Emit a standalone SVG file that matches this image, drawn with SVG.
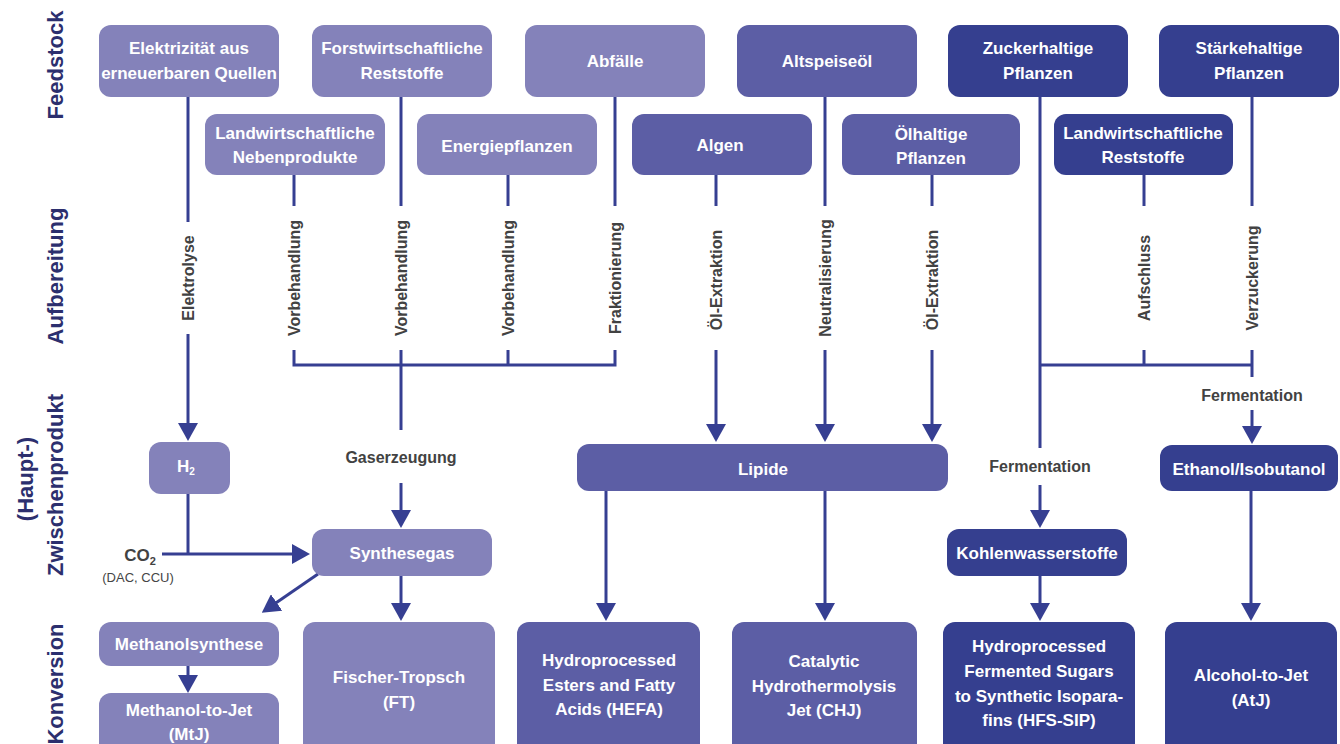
<svg xmlns="http://www.w3.org/2000/svg" width="1340" height="744" viewBox="0 0 1340 744">
<defs>
<style>
.t{font-family:"Liberation Sans Narrow","Liberation Sans",Arial,sans-serif;font-weight:bold;text-anchor:middle;dominant-baseline:central}
.n{font-size:17px;fill:#fff}
.p{font-size:16px;fill:#424242}
.ax{font-size:22px;fill:#2c2f6e}
.c1{fill:#8482ba}
.c2{fill:#5c5ea5}
.c3{fill:#353f8f}
.ln{stroke:#363f92;stroke-width:3;fill:none}
</style>
<marker id="ah" markerUnits="userSpaceOnUse" viewBox="0 0 18 20" markerWidth="18" markerHeight="20" refX="8" refY="10" orient="auto">
<path d="M0,0 L18,10 L0,20 z" fill="#363f92"/>
</marker>
</defs>
<rect width="1340" height="744" fill="#fff"/>

<!-- axis labels -->
<g id="axis">
<text class="t ax" transform="translate(55,65) rotate(-90)">Feedstock</text>
<text class="t ax" transform="translate(55,276) rotate(-90)">Aufbereitung</text>
<text class="t ax" transform="translate(25,479) rotate(-90)">(Haupt-)</text>
<text class="t ax" transform="translate(55,485) rotate(-90)">Zwischenprodukt</text>
<text class="t ax" transform="translate(55,684) rotate(-90)">Konversion</text>
</g>

<!-- connectors -->
<g id="connectors" class="ln">
<line x1="188" y1="97" x2="188" y2="222"/>
<line x1="188" y1="334" x2="188" y2="431" marker-end="url(#ah)"/>
<line x1="294" y1="175" x2="294" y2="206"/>
<line x1="401" y1="97" x2="401" y2="206"/>
<line x1="508" y1="175" x2="508" y2="206"/>
<line x1="615" y1="97" x2="615" y2="206"/>
<polyline points="294,350 294,365 615,365 615,350"/>
<line x1="401" y1="350" x2="401" y2="430"/>
<line x1="508" y1="350" x2="508" y2="365"/>
<line x1="401" y1="483" x2="401" y2="518" marker-end="url(#ah)"/>
<line x1="716" y1="175" x2="716" y2="206"/>
<line x1="716" y1="350" x2="716" y2="432" marker-end="url(#ah)"/>
<line x1="825" y1="97" x2="825" y2="206"/>
<line x1="825" y1="350" x2="825" y2="432" marker-end="url(#ah)"/>
<line x1="932" y1="175" x2="932" y2="206"/>
<line x1="932" y1="350" x2="932" y2="432" marker-end="url(#ah)"/>
<line x1="1040" y1="97" x2="1040" y2="448"/>
<line x1="1040" y1="485" x2="1040" y2="518" marker-end="url(#ah)"/>
<line x1="1144" y1="175" x2="1144" y2="206"/>
<line x1="1252" y1="97" x2="1252" y2="206"/>
<polyline points="1040,365 1252,365"/>
<line x1="1144" y1="350" x2="1144" y2="365"/>
<line x1="1252" y1="350" x2="1252" y2="377"/>
<line x1="1252" y1="410" x2="1252" y2="434" marker-end="url(#ah)"/>
<line x1="606" y1="491" x2="606" y2="611" marker-end="url(#ah)"/>
<line x1="825" y1="491" x2="825" y2="611" marker-end="url(#ah)"/>
<line x1="188" y1="494" x2="188" y2="554"/>
<line x1="162" y1="554" x2="300" y2="554" marker-end="url(#ah)"/>
<line x1="318" y1="574" x2="270" y2="607" marker-end="url(#ah)"/>
<line x1="401" y1="576" x2="401" y2="611" marker-end="url(#ah)"/>
<line x1="188" y1="666" x2="188" y2="683" marker-end="url(#ah)"/>
<line x1="1040" y1="576" x2="1040" y2="611" marker-end="url(#ah)"/>
<line x1="1251" y1="491" x2="1251" y2="611" marker-end="url(#ah)"/>
</g>

<!-- process labels -->
<g id="process-labels">
<text class="t p" transform="translate(188,278) rotate(-90)">Elektrolyse</text>
<text class="t p" transform="translate(294,278) rotate(-90)">Vorbehandlung</text>
<text class="t p" transform="translate(401,278) rotate(-90)">Vorbehandlung</text>
<text class="t p" transform="translate(508,278) rotate(-90)">Vorbehandlung</text>
<text class="t p" transform="translate(615,278) rotate(-90)">Fraktionierung</text>
<text class="t p" transform="translate(716,280) rotate(-90)">Öl-Extraktion</text>
<text class="t p" transform="translate(825,278) rotate(-90)">Neutralisierung</text>
<text class="t p" transform="translate(932,280) rotate(-90)">Öl-Extraktion</text>
<text class="t p" transform="translate(1144,278) rotate(-90)">Aufschluss</text>
<text class="t p" transform="translate(1252,278) rotate(-90)">Verzuckerung</text>
<text class="t p" x="401" y="457">Gaserzeugung</text>
<text class="t p" x="1040" y="466">Fermentation</text>
<text class="t p" x="1252" y="395">Fermentation</text>
<text class="t p" x="140" y="555" style="font-size:17px">CO<tspan font-size="11" dy="6">2</tspan></text>
<text x="138" y="577" style="font-family:'Liberation Sans Narrow','Liberation Sans',Arial,sans-serif;font-size:13px;fill:#454545;text-anchor:middle;dominant-baseline:central">(DAC, CCU)</text>
</g>

<!-- feedstock row 1 -->
<g id="n-elektrizitaet"><rect class="c1" x="99" y="25" width="180" height="72" rx="12"/><text class="t n" x="189" y="48">Elektrizität aus</text><text class="t n" x="189" y="73">erneuerbaren Quellen</text></g>
<g id="n-forst"><rect class="c1" x="312" y="25" width="180" height="72" rx="12"/><text class="t n" x="402" y="48">Forstwirtschaftliche</text><text class="t n" x="402" y="73">Reststoffe</text></g>
<g id="n-abfaelle"><rect class="c1" x="525" y="25" width="180" height="72" rx="12"/><text class="t n" x="615" y="61">Abfälle</text></g>
<g id="n-altspeiseoel"><rect class="c2" x="737" y="25" width="180" height="72" rx="12"/><text class="t n" x="827" y="61">Altspeiseöl</text></g>
<g id="n-zucker"><rect class="c3" x="948" y="25" width="180" height="72" rx="12"/><text class="t n" x="1038" y="48">Zuckerhaltige</text><text class="t n" x="1038" y="73">Pflanzen</text></g>
<g id="n-staerke"><rect class="c3" x="1159" y="25" width="180" height="72" rx="12"/><text class="t n" x="1249" y="48">Stärkehaltige</text><text class="t n" x="1249" y="73">Pflanzen</text></g>

<!-- feedstock row 2 -->
<g id="n-landw-neben"><rect class="c1" x="205" y="114" width="180" height="61" rx="12"/><text class="t n" x="295" y="133">Landwirtschaftliche</text><text class="t n" x="295" y="157">Nebenprodukte</text></g>
<g id="n-energie"><rect class="c1" x="417" y="114" width="180" height="61" rx="12"/><text class="t n" x="507" y="146">Energiepflanzen</text></g>
<g id="n-algen"><rect class="c2" x="632" y="114" width="180" height="61" rx="12"/><text class="t n" x="720" y="145">Algen</text></g>
<g id="n-oelhaltig"><rect class="c2" x="842" y="114" width="178" height="61" rx="12"/><text class="t n" x="931" y="134">Ölhaltige</text><text class="t n" x="931" y="158">Pflanzen</text></g>
<g id="n-landw-rest"><rect class="c3" x="1054" y="114" width="179" height="61" rx="12"/><text class="t n" x="1143" y="133">Landwirtschaftliche</text><text class="t n" x="1143" y="157">Reststoffe</text></g>

<!-- intermediates -->
<g id="n-h2"><rect class="c1" x="149" y="442" width="81" height="52" rx="12"/><text class="t n" x="186" y="466">H<tspan font-size="10" dy="5">2</tspan></text></g>
<g id="n-synthesegas"><rect class="c1" x="312" y="529" width="180" height="47" rx="12"/><text class="t n" x="402" y="553">Synthesegas</text></g>
<g id="n-lipide"><rect class="c2" x="577" y="444" width="371" height="47" rx="12"/><text class="t n" x="763" y="469">Lipide</text></g>
<g id="n-kohlenwasserstoffe"><rect class="c3" x="947" y="529" width="180" height="47" rx="12"/><text class="t n" x="1037" y="553">Kohlenwasserstoffe</text></g>
<g id="n-ethanol"><rect class="c3" x="1160" y="445" width="178" height="46" rx="12"/><text class="t n" x="1249" y="469">Ethanol/Isobutanol</text></g>

<!-- conversion -->
<g id="n-methanolsynthese"><rect class="c1" x="99" y="622" width="180" height="44" rx="12"/><text class="t n" x="189" y="644">Methanolsynthese</text></g>
<g id="n-mtj"><rect class="c1" x="99" y="693" width="180" height="64" rx="12"/><text class="t n" x="189" y="710">Methanol-to-Jet</text><text class="t n" x="189" y="734">(MtJ)</text></g>
<g id="n-ft"><rect class="c1" x="303" y="622" width="192" height="135" rx="12"/><text class="t n" x="399" y="677">Fischer-Tropsch</text><text class="t n" x="399" y="702">(FT)</text></g>
<g id="n-hefa"><rect class="c2" x="517" y="622" width="183" height="135" rx="12"/><text class="t n" x="609" y="660">Hydroprocessed</text><text class="t n" x="609" y="685">Esters and Fatty</text><text class="t n" x="609" y="709">Acids (HEFA)</text></g>
<g id="n-chj"><rect class="c2" x="732" y="622" width="185" height="135" rx="12"/><text class="t n" x="824" y="661">Catalytic</text><text class="t n" x="824" y="686">Hydrothermolysis</text><text class="t n" x="824" y="710">Jet (CHJ)</text></g>
<g id="n-hfs"><rect class="c3" x="943" y="622" width="192" height="135" rx="12"/><text class="t n" x="1039" y="646">Hydroprocessed</text><text class="t n" x="1039" y="671">Fermented Sugars</text><text class="t n" x="1039" y="696">to Synthetic Isopara-</text><text class="t n" x="1039" y="720">fins (HFS-SIP)</text></g>
<g id="n-atj"><rect class="c3" x="1165" y="622" width="172" height="135" rx="12"/><text class="t n" x="1251" y="675">Alcohol-to-Jet</text><text class="t n" x="1251" y="700">(AtJ)</text></g>
</svg>
